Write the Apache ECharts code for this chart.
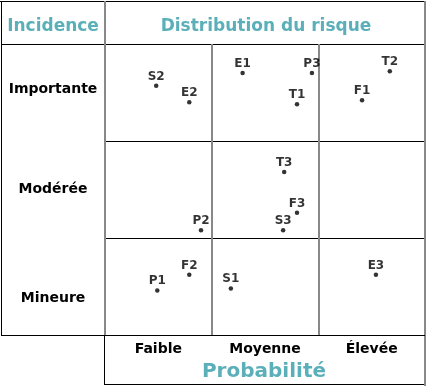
<!DOCTYPE html>
<html>
<head>
<meta charset="utf-8">
<script src="https://cdn.jsdelivr.net/npm/echarts@6/dist/echarts.min.js"></script>
<style>
html,body{margin:0;padding:0;background:#fff;}
#chart{width:426px;height:386px;}
</style>
</head>
<body>
<div id="chart"></div>
<script>
// Column (probability) and row (incidence) labels
var probabilityLabels = ['Faible', 'Moyenne', 'Élevée'];
var incidenceLabels = ['Mineure', 'Modérée', 'Importante'];

// Risk points: name, probability (0-3), incidence (0-3)
var pointNames       = ['S2', 'E2', 'E1', 'P3', 'T1', 'F1', 'T2', 'T3', 'F3', 'P2', 'S3', 'P1', 'F2', 'S1', 'E3'];
var pointProbability = [0.48, 0.79, 1.29, 1.94, 1.80, 2.41, 2.67, 1.68, 1.80, 0.90, 1.67, 0.49, 0.79, 1.18, 2.54];
var pointIncidence   = [2.57, 2.40, 2.70, 2.70, 2.38, 2.42, 2.72, 1.68, 1.26, 1.08, 1.08, 0.46, 0.62, 0.48, 0.62];

var TEAL = '#5bafb9';
var FONT = '"DejaVu Sans", Verdana, sans-serif';

var chart = echarts.init(document.getElementById('chart'), null, {renderer: 'canvas'});

var scatterData = pointNames.map(function (n, i) {
  return [pointProbability[i], pointIncidence[i], n];
});

var rowRich = {};
var rowPads = [[24, 0, 0, 0], [0, 0, 1, 0], [0, 0, 6, 0]];
incidenceLabels.forEach(function (l, i) {
  rowRich['r' + i] = {padding: rowPads[i], color: '#000', fontWeight: 'bold', fontSize: 14, fontFamily: FONT, align: 'center'};
});

var option = {
  animation: false,
  backgroundColor: '#fff',
  grid: {left: 105, top: 44, width: 320, height: 291, containLabel: false, outerBoundsMode: 'none'},
  xAxis: [
    {
      type: 'value', min: 0, max: 3, interval: 1,
      axisLine: {show: false}, axisTick: {show: false}, axisLabel: {show: false},
      splitLine: {show: true, lineStyle: {color: '#888888', width: 2}}
    },
    {
      type: 'category', data: probabilityLabels, position: 'bottom',
      axisLine: {show: false}, axisTick: {show: false}, splitLine: {show: false},
      axisLabel: {margin: 7, color: '#000', fontWeight: 'bold', fontSize: 14, fontFamily: FONT}
    }
  ],
  yAxis: [
    {
      type: 'value', min: 0, max: 3, interval: 1,
      axisLine: {show: false}, axisTick: {show: false}, axisLabel: {show: false},
      splitLine: {show: true, lineStyle: {color: '#000', width: 1}}
    },
    {
      type: 'category', data: incidenceLabels, position: 'left',
      axisLine: {show: false}, axisTick: {show: false}, splitLine: {show: false},
      axisLabel: {
        margin: 52, align: 'center', color: '#000', fontWeight: 'bold', fontSize: 14, fontFamily: FONT,
        formatter: function (v, i) { return '{r' + i + '|' + v + '}'; },
        rich: rowRich
      }
    }
  ],
  series: [
    {
      type: 'scatter', xAxisIndex: 0, yAxisIndex: 0,
      data: scatterData,
      symbol: 'circle', symbolSize: 4.5,
      itemStyle: {color: '#000'},
      label: {
        show: true, position: 'top', distance: 1,
        formatter: function (p) { return p.data[2]; },
        color: '#000', fontWeight: 'bold', fontSize: 12, fontFamily: FONT
      }
    }
  ],
  graphic: [
    {type: 'line', shape: {x1: 0, y1: 1.5, x2: 426, y2: 1.5}, style: {stroke: '#000', lineWidth: 1}},
    {type: 'line', shape: {x1: 1.5, y1: 1, x2: 1.5, y2: 336}, style: {stroke: '#000', lineWidth: 1}},
    {type: 'line', shape: {x1: 1, y1: 44.5, x2: 105, y2: 44.5}, style: {stroke: '#000', lineWidth: 1}},
    {type: 'line', shape: {x1: 1, y1: 335.5, x2: 105, y2: 335.5}, style: {stroke: '#000', lineWidth: 1}},
    {type: 'line', shape: {x1: 105, y1: 1, x2: 105, y2: 44}, style: {stroke: '#888888', lineWidth: 2}},
    {type: 'line', shape: {x1: 425, y1: 1, x2: 425, y2: 44}, style: {stroke: '#888888', lineWidth: 2}},
    {type: 'line', shape: {x1: 425, y1: 335, x2: 425, y2: 386}, style: {stroke: '#888888', lineWidth: 2}},
    {type: 'line', shape: {x1: 104.5, y1: 335, x2: 104.5, y2: 385}, style: {stroke: '#000', lineWidth: 1}},
    {type: 'line', shape: {x1: 104, y1: 384.5, x2: 424, y2: 384.5}, style: {stroke: '#000', lineWidth: 1}},
    {type: 'text', x: 53, y: 27, style: {text: 'Incidence', font: 'bold 17px ' + FONT, fill: TEAL, align: 'center', verticalAlign: 'middle'}},
    {type: 'text', x: 266, y: 27, style: {text: 'Distribution du risque', font: 'bold 17px ' + FONT, fill: TEAL, align: 'center', verticalAlign: 'middle'}},
    {type: 'text', x: 264, y: 372, style: {text: 'Probabilité', font: 'bold 20px ' + FONT, fill: TEAL, align: 'center', verticalAlign: 'middle'}}
  ]
};

chart.setOption(option);
</script>
</body>
</html>
